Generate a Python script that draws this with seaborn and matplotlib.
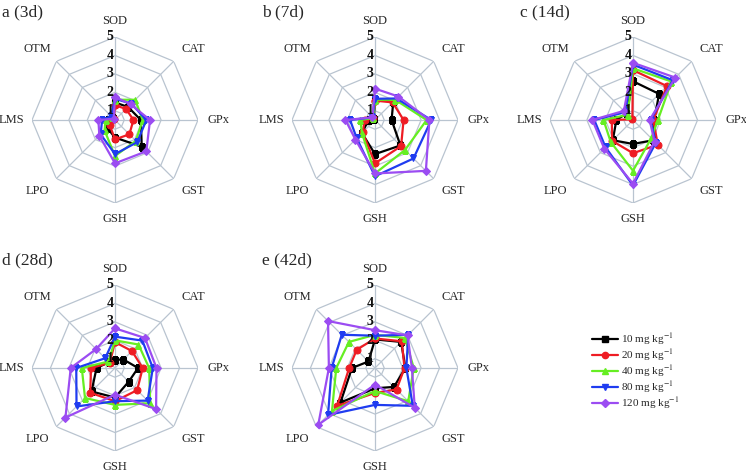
import numpy as np
import pandas as pd
import matplotlib
matplotlib.use('Agg')
import matplotlib.pyplot as plt
import matplotlib.transforms as mtransforms
from matplotlib.lines import Line2D
import seaborn as sns

# axes of the radar, clockwise from top
indices = ['SOD', 'CAT', 'GPx', 'GST', 'GSH', 'LPO', 'LMS', 'OTM']
doses = ['10 mg kg$^{-1}$', '20 mg kg$^{-1}$', '40 mg kg$^{-1}$', '80 mg kg$^{-1}$', '120 mg kg$^{-1}$']
titles = ['a (3d)', 'b (7d)', 'c (14d)', 'd (28d)', 'e (42d)']
ring_ticks = [1, 2, 3, 4, 5]

# values per panel, one row per dose (order of doses), columns in order of indices
day3 = [[1.45, 1.5, 1.9, 2.55, 1.45, 1.1, 0.9, 0.65],
        [1.3, 1.35, 1.5, 1.6, 1.55, 0.9, 0.7, 0.6],
        [1.6, 2.05, 2.0, 2.1, 2.45, 1.3, 1.0, 0.7],
        [1.65, 1.75, 2.2, 2.2, 2.35, 1.6, 1.2, 0.8],
        [1.75, 1.7, 2.4, 2.9, 2.85, 1.7, 1.4, 0.6]]
day7 = [[1.6, 1.9, 1.4, 2.45, 2.35, 1.5, 0.85, 0.6],
        [1.55, 1.85, 2.05, 2.5, 2.85, 1.45, 1.05, 0.65],
        [1.6, 2.05, 3.3, 2.8, 3.4, 1.5, 1.3, 0.65],
        [1.65, 2.15, 3.55, 3.45, 3.55, 1.9, 1.85, 0.7],
        [2.2, 2.3, 3.45, 4.4, 3.4, 2.0, 2.1, 0.7]]
day14 = [[2.6, 2.5, 1.65, 2.05, 1.8, 2.05, 1.4, 1.0],
         [3.2, 3.1, 1.6, 2.4, 2.3, 2.1, 1.65, 0.55],
         [3.3, 3.45, 1.85, 1.9, 3.25, 2.2, 2.1, 0.9],
         [3.5, 3.55, 1.45, 2.25, 4.05, 2.6, 2.6, 1.1],
         [3.6, 3.75, 1.4, 2.15, 3.95, 2.7, 2.7, 1.2]]
day28 = [[0.95, 1.15, 1.75, 1.55, 2.1, 2.3, 1.5, 0.95],
         [1.9, 1.8, 2.0, 2.2, 2.3, 2.4, 1.8, 0.9],
         [2.0, 2.3, 2.35, 3.2, 2.5, 2.8, 2.3, 1.0],
         [2.2, 2.6, 2.55, 3.0, 2.3, 3.45, 2.6, 1.25],
         [2.65, 2.8, 2.75, 3.65, 1.95, 4.3, 2.9, 1.95]]
day42 = [[2.05, 2.5, 2.15, 1.95, 1.6, 3.15, 1.75, 1.0],
         [2.1, 2.55, 2.1, 2.15, 1.85, 3.4, 1.9, 1.9],
         [2.3, 2.8, 2.6, 3.05, 1.75, 3.8, 2.6, 2.5],
         [2.25, 3.05, 2.2, 3.4, 2.5, 4.1, 2.85, 3.05],
         [2.55, 3.0, 2.5, 3.55, 1.4, 4.85, 3.0, 4.1]]
panels = [day3, day7, day14, day28, day42]

colors = ['#000000', '#ee1c24', '#66ee22', '#1f3cf0', '#9b4cf2']
markers = ['s', 'o', '^', 'v', 'D']
msizes = [4.5, 5, 5, 5, 4.5]

sns.set_theme(style='white')
plt.rcParams['font.family'] = ['Liberation Serif', 'DejaVu Serif']
plt.rcParams['mathtext.fontset'] = 'stix'

W, H = 746, 472
fig = plt.figure(figsize=(W / 100, H / 100), dpi=100)
fig.patch.set_facecolor('white')

centers = [(115, 120), (375, 120), (633, 120), (115, 368), (375, 368)]
R = 83
rmin, rmax = 0.5, 5
grid_col = '#b9c4d0'

theta = np.arange(len(indices)) * 2 * np.pi / len(indices)
theta_c = np.append(theta, theta[0])

for k, (cx, cy) in enumerate(centers):
    ax = fig.add_axes([(cx - R) / W, (H - cy - R) / H, 2 * R / W, 2 * R / H], projection='polar')
    ax.set_theta_zero_location('N')
    ax.set_theta_direction(-1)
    ax.set_ylim(rmin, rmax)
    ax.grid(False)
    ax.set_xticks([])
    ax.set_yticks([])
    ax.spines['polar'].set_visible(False)
    ax.patch.set_alpha(0)

    # octagon rings and spokes
    for t in ring_ticks:
        ax.plot(theta_c, [t] * len(theta_c), color=grid_col, lw=0.9, zorder=1)
    for th in theta:
        ax.plot([th, th], [rmin, rmax], color=grid_col, lw=0.9, zorder=1)

    # series
    for i, vals in enumerate(panels[k]):
        d = pd.DataFrame({'theta': theta_c, 'value': np.append(vals, vals[0])})
        sns.lineplot(data=d, x='theta', y='value', sort=False, estimator=None,
                     color=colors[i], marker=markers[i], markersize=msizes[i],
                     markeredgecolor=colors[i], lw=1.6, ax=ax, zorder=3 + i)
    ax.set_xlabel('')
    ax.set_ylabel('')
    if ax.get_legend() is not None:
        ax.get_legend().remove()

    # radial tick labels
    off = mtransforms.offset_copy(ax.transData, fig=fig, x=-1, y=0, units='points')
    for t in ring_ticks:
        ax.text(0, t, str(t), transform=off, ha='right', va='center',
                fontsize=10, fontweight='bold', color='#111111', zorder=10)

    # axis names
    for th, name in zip(theta, indices):
        diag = abs(np.sin(th)) > 0.1 and abs(np.cos(th)) > 0.1
        horiz = abs(np.cos(th)) < 0.1
        rl = 6.2 if diag else (6.1 if horiz else 5.85)
        tt = th
        if diag:
            # labels sit a little below the diagonal
            tt = th + (0.05 if np.sin(th) * np.cos(th) > 0 else -0.05)
        ax.text(tt, rl, name, ha='center', va='center', fontsize=9, clip_on=False)

    fig.text((cx - 113) / W, 1 - 12 / H - (cy - 120) / H, titles[k],
             ha='left', va='center', fontsize=12.5)

handles = [Line2D([0], [0], color=colors[i], marker=markers[i], markersize=msizes[i] - 0.5, lw=1.6)
           for i in range(len(doses))]
fig.legend(handles, doses, loc='upper left', bbox_to_anchor=(588 / W, 1 - 327 / H),
           frameon=False, fontsize=8, handlelength=2.3, handletextpad=0.3,
           labelspacing=0.0, borderaxespad=0)

fig.savefig('out.png', dpi=100, facecolor='white')
